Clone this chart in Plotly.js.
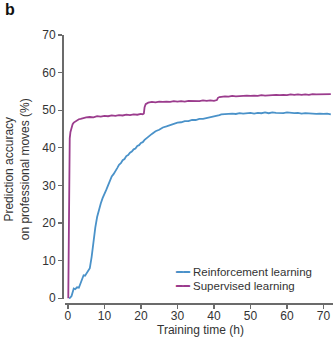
<!DOCTYPE html>
<html>
<head>
<meta charset="utf-8">
<script src="https://cdn.plot.ly/plotly-3.0.1.min.js"></script>
<style>html,body{margin:0;padding:0;background:#fff;}#chart{width:333px;height:337px;}</style>
</head>
<body>
<div id="chart"></div>
<script>
// Reinforcement learning (blue)
const rlHours = [0.3,0.6,1,1.3,1.6,2,2.5,3,3.5,4,4.3,4.7,5,5.5,6,6.5,7,7.5,8,8.5,9,9.5,10,10.5,11,11.5,12,12.5,13,13.5,14,14.5,15,15.5,16,16.5,17,17.5,18,18.5,19,19.5,20,20.5,21,21.5,22,23,24,25,26,27,28,29,30,31,32,33,34,35,36,37,38,39,40,40.5,41,41.5,42,43,44,45,46,47,48,49,50,51,52,53,54,55,56,57,58,59,60,61,62,63,64,65,66,67,68,69,70,71,72];
const rlAcc = [0,0.1,0.6,1.9,2.6,2.4,2.9,2.8,3.9,5.5,6.1,6.0,6.5,7.0,8.0,11.0,15.5,18.8,21.6,23.6,25.2,26.6,28.0,28.8,30.0,31.3,32.4,33.0,34.0,34.6,35.5,35.9,36.7,37.0,37.8,38.1,38.7,39.0,39.6,39.8,40.5,40.7,41.3,41.5,42.1,42.4,42.9,43.7,44.4,44.8,45.4,45.7,46.1,46.3,46.7,46.8,47.1,47.1,47.4,47.4,47.7,47.7,47.9,48.0,48.2,48.3,48.5,48.7,48.9,49.0,48.9,49.1,49.0,49.2,49.1,49.2,49.3,49.1,49.3,49.2,49.4,49.2,49.4,49.3,49.3,49.2,49.4,49.3,49.2,49.3,49.1,49.2,49.1,49.2,49.0,49.1,49.0,49.1,48.9,49.0,49.0];
// Supervised learning (purple)
const slHours = [0.1,0.2,0.3,0.4,0.5,0.7,1,1.3,1.6,2,2.5,3,3.5,4,5,6,7,8,9,10,11,12,13,14,15,16,17,18,19,20,20.5,20.8,21,21.3,22,23,24,25,26,27,28,29,30,31,32,33,34,35,36,37,38,39,40,40.8,41.1,41.5,42,43,44,45,46,47,48,49,50,51,52,53,54,55,56,57,58,59,60,61,62,63,64,65,66,67,68,69,70,71,72];
const slAcc = [0,12,30,40,42.5,44.2,45.6,46.3,46.7,47.0,47.4,47.6,47.7,47.9,48.1,48.2,48.1,48.4,48.3,48.5,48.4,48.6,48.5,48.7,48.6,48.8,48.7,48.9,48.8,49.0,48.9,49.1,50.8,51.6,52.0,52.2,52.1,52.3,52.2,52.3,52.2,52.4,52.3,52.4,52.3,52.5,52.4,52.5,52.4,52.6,52.5,52.6,52.5,52.7,53.3,53.5,53.6,53.7,53.6,53.8,53.7,53.8,53.7,53.9,53.8,53.9,53.8,54.0,53.9,54.0,53.9,54.1,54.0,54.1,54.0,54.2,54.1,54.2,54.1,54.2,54.1,54.3,54.2,54.2,54.3,54.2,54.3];

const seriesNames = ['Reinforcement learning', 'Supervised learning'];
const xTicks = [0,10,20,30,40,50,60,70];
const yTicks = [0,10,20,30,40,50,60,70];

const FONT = 'Liberation Sans, Arial, Helvetica, sans-serif';
const BLUE = '#4a92c9';
const PURPLE = '#9b3c8d';

const traces = [
  {x: rlHours, y: rlAcc, type: 'scatter', mode: 'lines', name: seriesNames[0],
   line: {color: BLUE, width: 1.8}},
  {x: slHours, y: slAcc, type: 'scatter', mode: 'lines', name: seriesNames[1],
   line: {color: PURPLE, width: 1.8}}
];

const axisCommon = {
  showgrid: false, zeroline: false, showline: true, linecolor: '#6b6b6b', linewidth: 1.5,
  ticks: 'outside', ticklen: 4, tickwidth: 1.2, tickcolor: '#6b6b6b',
  tickfont: {family: FONT, size: 12, color: '#333'}
};

const legendItem = (name, color, y) => ({
  text: '<span style="color:' + color + ';font-family:DejaVu Sans">━━</span> ' + name,
  xref: 'paper', yref: 'paper', x: 0.415, y: y, xanchor: 'left', yanchor: 'middle',
  showarrow: false, borderpad: 0, font: {family: FONT, size: 11.5, color: '#333'}
});

const layout = {
  width: 333, height: 337,
  margin: {l: 62, r: 0, t: 35, b: 34},
  paper_bgcolor: '#fff', plot_bgcolor: '#fff',
  showlegend: false,
  title: {text: '<b>b</b>', x: 0.015, xref: 'container', xanchor: 'left', y: 0.99, yref: 'container', yanchor: 'top',
          font: {family: FONT, size: 16, color: '#111'}},
  xaxis: Object.assign({}, axisCommon, {
    domain: [0.011, 1], range: [-0.8, 72.6], anchor: 'free', position: 0,
    tickvals: xTicks, ticktext: xTicks.map(String), ticklabelstandoff: -3
  }),
  yaxis: Object.assign({}, axisCommon, {
    domain: [0.015, 1], range: [-0.2, 70], anchor: 'free', position: 0,
    tickvals: yTicks, ticktext: yTicks.map(String)
  }),
  annotations: [
    {text: 'Prediction accuracy<br>on professional moves (%)', xref: 'paper', yref: 'paper',
     x: -0.165, y: 0.5, textangle: -90, showarrow: false, xanchor: 'center', yanchor: 'middle',
     font: {family: FONT, size: 12, color: '#333'}},
    {text: 'Training time (h)', xref: 'paper', yref: 'paper', x: 0.51, y: -0.1,
     showarrow: false, xanchor: 'center', yanchor: 'middle',
     font: {family: FONT, size: 12, color: '#333'}},
    legendItem(seriesNames[0], BLUE, 0.1157),
    legendItem(seriesNames[1], PURPLE, 0.0634)
  ]
};

Plotly.newPlot('chart', traces, layout, {displayModeBar: false, staticPlot: true});
</script>
</body>
</html>
